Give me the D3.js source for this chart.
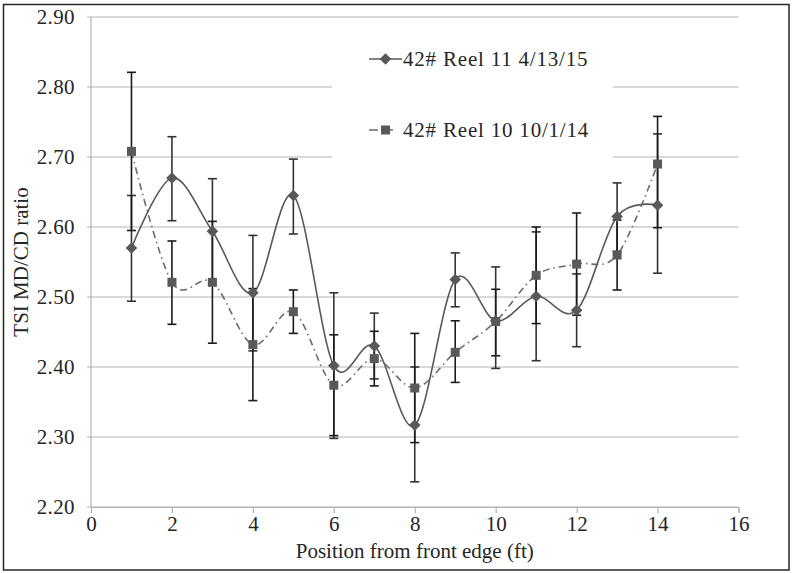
<!DOCTYPE html>
<html>
<head>
<meta charset="utf-8">
<script src="https://cdn.jsdelivr.net/npm/d3@7"></script>
<style>
  html, body { margin: 0; padding: 0; background: #fff; }
  svg { display: block; }
  text { font-family: "Liberation Serif", "Times New Roman", serif; fill: #262626; }
</style>
</head>
<body>
<svg id="chart" width="792" height="573"></svg>
<script>
// ---- data ----
const positions = [1, 2, 3, 4, 5, 6, 7, 8, 9, 10, 11, 12, 13, 14];

const reel11Name = "42# Reel 11 4/13/15";
const reel11 = [2.570, 2.670, 2.594, 2.506, 2.645, 2.402, 2.430, 2.317, 2.525, 2.466, 2.501, 2.481, 2.615, 2.631];
const reel11Low = [2.494, 2.609, 2.519, 2.423, 2.590, 2.298, 2.383, 2.236, 2.486, 2.398, 2.409, 2.429, 2.565, 2.534];
const reel11High = [2.645, 2.729, 2.669, 2.588, 2.697, 2.506, 2.477, 2.400, 2.563, 2.543, 2.593, 2.533, 2.663, 2.733];

const reel10Name = "42# Reel 10 10/1/14";
const reel10 = [2.708, 2.521, 2.521, 2.432, 2.479, 2.374, 2.412, 2.370, 2.421, 2.465, 2.531, 2.547, 2.560, 2.690];
const reel10Low = [2.595, 2.461, 2.434, 2.352, 2.448, 2.302, 2.373, 2.292, 2.378, 2.416, 2.462, 2.474, 2.510, 2.599];
const reel10High = [2.821, 2.580, 2.608, 2.512, 2.510, 2.446, 2.451, 2.448, 2.466, 2.511, 2.600, 2.620, 2.610, 2.758];

const xTicks = [0, 2, 4, 6, 8, 10, 12, 14, 16];
const yTicks = [2.20, 2.30, 2.40, 2.50, 2.60, 2.70, 2.80, 2.90];
const xTitle = "Position from front edge (ft)";
const yTitle = "TSI MD/CD ratio";

// ---- layout ----
const svg = d3.select("#chart");
const pLeft = 91, pRight = 738.5, pTop = 17, pBottom = 507;
const x = d3.scaleLinear().domain([0, 16]).range([pLeft, pRight]);
const y = d3.scaleLinear().domain([2.20, 2.90]).range([pBottom, pTop]);

// outer border
svg.append("rect").attr("x", 3.5).attr("y", 4.5).attr("width", 785.5).attr("height", 565.5)
  .attr("fill", "#fff").attr("stroke", "#262626").attr("stroke-width", 1.5);

const gridColor = "#b3b3b3";

// gridlines
svg.append("g").selectAll("line").data(yTicks).join("line")
  .attr("x1", pLeft - 4).attr("x2", pRight)
  .attr("y1", d => y(d)).attr("y2", d => y(d))
  .attr("stroke", gridColor).attr("stroke-width", 1.2);

// y axis line
svg.append("line").attr("x1", pLeft).attr("x2", pLeft).attr("y1", pTop).attr("y2", pBottom)
  .attr("stroke", gridColor).attr("stroke-width", 1.2);

// x axis
const xAxis = svg.append("g").attr("transform", `translate(0,${pBottom})`)
  .call(d3.axisBottom(x).tickValues(xTicks).tickSize(6).tickFormat(d3.format("d")));
xAxis.select(".domain").attr("stroke", gridColor).attr("stroke-width", 1.2);
xAxis.selectAll(".tick line").attr("stroke", gridColor).attr("stroke-width", 1.2);
xAxis.selectAll(".tick text").attr("y", 9).attr("dy", "0.71em")
  .style("font-family", "Liberation Serif").style("font-size", "21px").attr("fill", "#262626");

// y axis labels
const yAxis = svg.append("g").attr("transform", `translate(${pLeft},0)`)
  .call(d3.axisLeft(y).tickValues(yTicks).tickSize(0).tickPadding(16).tickFormat(d3.format(".2f")));
yAxis.select(".domain").remove();
yAxis.selectAll(".tick text")
  .style("font-family", "Liberation Serif").style("font-size", "21px").style("letter-spacing", "0.4px").attr("fill", "#262626");

// axis titles
svg.append("text").attr("x", (pLeft + pRight) / 2).attr("y", 558).attr("text-anchor", "middle")
  .style("font-size", "21px").text(xTitle);
svg.append("text").attr("transform", `translate(28,${(pTop + pBottom) / 2}) rotate(-90)`)
  .attr("text-anchor", "middle").style("font-size", "21px").text(yTitle);

// legend background (covers gridlines)
svg.append("rect").attr("x", 332).attr("y", 26).attr("width", 281).attr("height", 146).attr("fill", "#fff");

// series definitions
const series = [
  { name: reel11Name, vals: reel11, lo: reel11Low, hi: reel11High, marker: "diamond", dash: null, lineColor: "#595959", errColor: "#333" },
  { name: reel10Name, vals: reel10, lo: reel10Low, hi: reel10High, marker: "square", dash: "7,4,1.5,4", lineColor: "#6b6b6b", errColor: "#1a1a1a" }
];

const line = d3.line().x(d => x(d[0])).y(d => y(d[1])).curve(d3.curveCardinal.tension(0));
const markerFill = "#595959";

function drawMarker(g, type, cx, cy) {
  if (type === "diamond") {
    const r = 5.8;
    g.append("path").attr("d", `M${cx},${cy - r}L${cx + r},${cy}L${cx},${cy + r}L${cx - r},${cy}Z`).attr("fill", markerFill);
  } else {
    const s = 9;
    g.append("rect").attr("x", cx - s / 2).attr("y", cy - s / 2).attr("width", s).attr("height", s).attr("fill", markerFill);
  }
}

// error bars
series.forEach(s => {
  const g = svg.append("g");
  positions.forEach((p, i) => {
    const cx = x(p);
    g.append("line").attr("x1", cx).attr("x2", cx).attr("y1", y(s.lo[i])).attr("y2", y(s.hi[i]))
      .attr("stroke", s.errColor).attr("stroke-width", 1.6);
    [s.lo[i], s.hi[i]].forEach(v => {
      g.append("line").attr("x1", cx - 4.5).attr("x2", cx + 4.5).attr("y1", y(v)).attr("y2", y(v))
        .attr("stroke", s.errColor).attr("stroke-width", 1.6);
    });
  });
});

// lines
series.forEach(s => {
  svg.append("path").datum(positions.map((p, i) => [p, s.vals[i]]))
    .attr("d", line).attr("fill", "none").attr("stroke", s.lineColor).attr("stroke-width", 1.6)
    .attr("stroke-dasharray", s.dash);
});

// markers
series.forEach(s => {
  const g = svg.append("g");
  positions.forEach((p, i) => drawMarker(g, s.marker, x(p), y(s.vals[i])));
});

// legend entries
const legendY = [59, 130];
series.forEach((s, k) => {
  const g = svg.append("g");
  const ly = legendY[k];
  g.append("line").attr("x1", 369).attr("x2", 402).attr("y1", ly).attr("y2", ly)
    .attr("stroke", s.lineColor).attr("stroke-width", 1.6).attr("stroke-dasharray", k === 0 ? null : "9,6,9");
  drawMarker(g, s.marker, 385.5, ly);
  g.append("text").attr("x", 403).attr("y", ly).attr("dy", "0.35em")
    .style("font-size", "21px").style("letter-spacing", "0.8px").text(s.name);
});
</script>
</body>
</html>
